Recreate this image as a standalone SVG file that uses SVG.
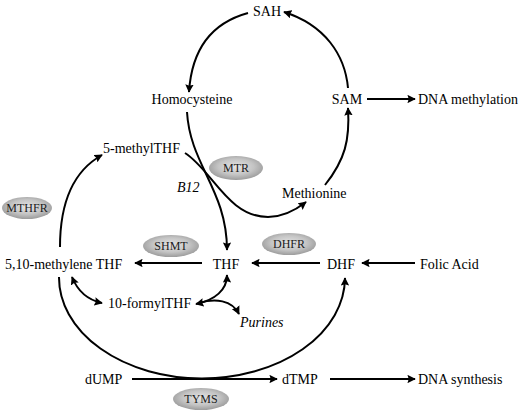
<svg xmlns="http://www.w3.org/2000/svg" width="520" height="410" viewBox="0 0 520 410">
<style>
text{font-family:"Liberation Serif","Times New Roman",serif;font-size:14px;fill:#000}
.e text{font-size:12px;text-anchor:middle;fill:#1a1a1a}
.it{font-style:italic}
.c path{fill:none;stroke:#000;stroke-width:2}
.m{marker-end:url(#ah)}
.mb{marker-start:url(#as);marker-end:url(#ah)}
</style>
<defs>
<radialGradient id="g" cx="50%" cy="45%" r="55%">
<stop offset="0" stop-color="#e4e4e4"/>
<stop offset="0.6" stop-color="#c4c4c4"/>
<stop offset="1" stop-color="#9c9c9c"/>
</radialGradient>
<marker id="ah" viewBox="0 0 10 10" refX="9" refY="5" markerWidth="4.2" markerHeight="4.4" orient="auto" markerUnits="strokeWidth">
<path d="M0,0 L10,5 L0,10 L1.5,5 Z" fill="#000"/>
</marker>
<marker id="as" viewBox="0 0 10 10" refX="1" refY="5" markerWidth="4.2" markerHeight="4.4" orient="auto" markerUnits="strokeWidth">
<path d="M10,0 L0,5 L10,10 L8.5,5 Z" fill="#000"/>
</marker>
</defs>
<g id="connectors" class="c">
<path class="m" d="M248,13 C215,22 192,45 189,92"/>
<path class="m" d="M348,88 C345,55 325,25 284,12"/>
<path class="m" d="M367,99 L415,99"/>
<path class="m" d="M325,185 C345,160 350,140 348,108"/>
<path class="m" d="M187,112 C190,165 227,190 227,250"/>
<path class="m" d="M185,153 C212,170 228,217 268,217 C285,217 297,209 306,202"/>
<path class="m" d="M60,247 C60,200 75,170 102,155"/>
<path class="m" d="M202,263 L135,263"/>
<path class="m" d="M320,263 L252,263"/>
<path class="m" d="M415,263 L362,263"/>
<path class="mb" d="M72,277 C78,292 88,300 102,303"/>
<path class="mb" d="M196,304 C215,300 227,290 227,275"/>
<path class="m" d="M199,303 C215,298 232,300 239,314"/>
<path class="m" d="M59,277 A143 101 0 0 0 345,278"/>
<path class="m" d="M132,379 L277,379"/>
<path class="m" d="M330,379 L415,379"/>
</g>
<g id="SAH"><text x="267" y="16" text-anchor="middle">SAH</text></g>
<g id="Homocysteine"><text x="192" y="104" text-anchor="middle">Homocysteine</text></g>
<g id="SAM"><text x="347" y="104" text-anchor="middle">SAM</text></g>
<g id="DNAmethylation"><text x="418" y="104">DNA methylation</text></g>
<g id="methylTHF"><text x="103" y="153">5-methylTHF</text></g>
<g id="B12"><text class="it" x="177" y="192">B12</text></g>
<g id="Methionine"><text x="282" y="198">Methionine</text></g>
<g id="methyleneTHF"><text x="5" y="269">5,10-methylene THF</text></g>
<g id="THF"><text x="226" y="269" text-anchor="middle">THF</text></g>
<g id="DHF"><text x="341" y="269" text-anchor="middle">DHF</text></g>
<g id="FolicAcid"><text x="420" y="269">Folic Acid</text></g>
<g id="formylTHF"><text x="108" y="308">10-formylTHF</text></g>
<g id="Purines"><text class="it" x="240" y="327">Purines</text></g>
<g id="dUMP"><text x="85" y="384">dUMP</text></g>
<g id="dTMP"><text x="282" y="384">dTMP</text></g>
<g id="DNAsynthesis"><text x="418" y="384">DNA synthesis</text></g>
<g id="MTR" class="e"><ellipse cx="236" cy="168" rx="27" ry="12" fill="url(#g)"/><text x="236" y="172">MTR</text></g>
<g id="MTHFR" class="e"><ellipse cx="27" cy="208" rx="25" ry="11" fill="url(#g)"/><text x="27" y="212">MTHFR</text></g>
<g id="SHMT" class="e"><ellipse cx="171" cy="246" rx="28" ry="11" fill="url(#g)"/><text x="171" y="250">SHMT</text></g>
<g id="DHFR" class="e"><ellipse cx="289" cy="244" rx="27" ry="11" fill="url(#g)"/><text x="289" y="248">DHFR</text></g>
<g id="TYMS" class="e"><ellipse cx="201" cy="399" rx="28" ry="11" fill="url(#g)"/><text x="201" y="403">TYMS</text></g>
</svg>
